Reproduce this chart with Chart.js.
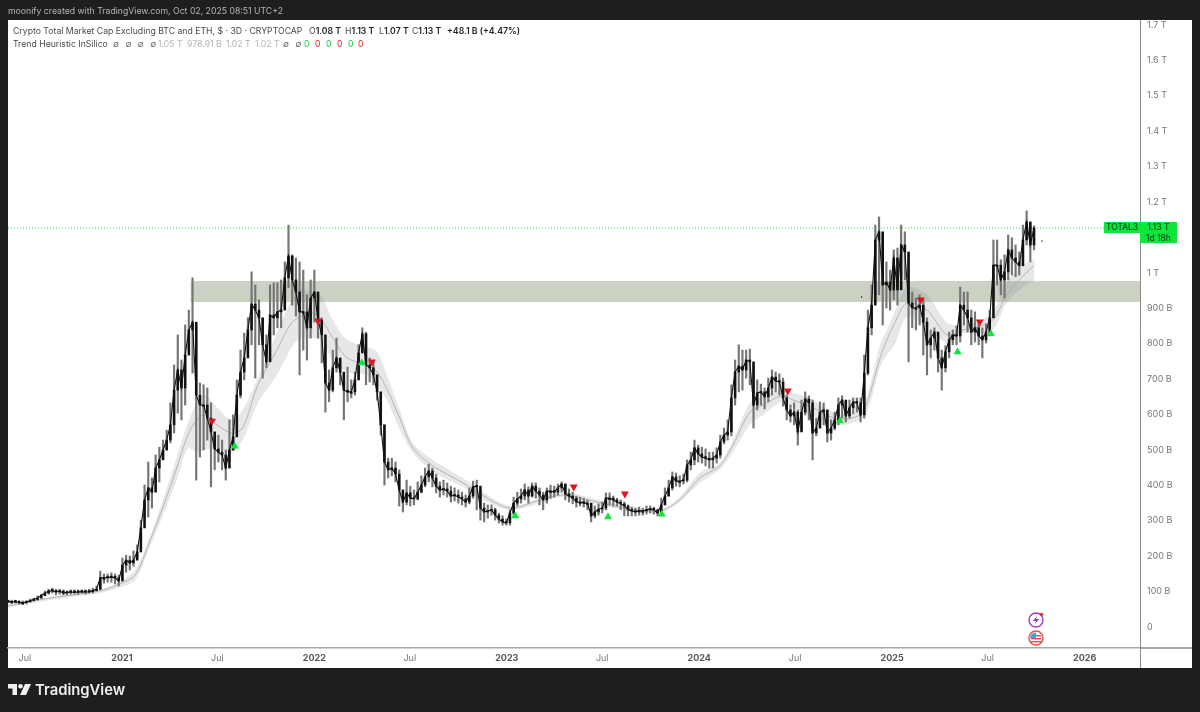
<!DOCTYPE html>
<html>
<head>
    <title>TOTAL3</title>
    <script src="https://cdn.jsdelivr.net/npm/chart.js"></script>
    <style>
        html, body { margin: 0; padding: 0; background: #1e1e1e; overflow: hidden; }
        body { width: 1200px; height: 712px; position: relative; font-family: Inter, Roboto, sans-serif; }
        #panel { position: absolute; left: 8px; top: 20px; width: 1184px; height: 648px; background: #fff; }
        #chart { position: absolute; left: 0; top: 0; }
        .t { position: absolute; white-space: nowrap; font-size: 8.7px; line-height: 12px; color: #4a4a4a; }
        .t b { font-weight: 600; color: #222; }
        .tag { position: absolute; background: #0ee63c; color: #0c3a14; font-size: 8.5px; line-height: 10.5px; text-align: center; }
        .logo { position: absolute; left: 35px; top: 680px; color: #efefef; font-size: 14.8px; line-height: 20px; font-weight: 600; }
        .rule { position: absolute; }
    </style>
</head>
<body>
    <div id="panel"></div>
    <canvas id="chart" width="1200" height="712"></canvas>
    <div class="rule" style="left:1140px;top:648px;width:1px;height:20px;background:#8a8a8a"></div>
    <div class="rule" style="left:1141px;top:647px;width:51px;height:1.5px;background:#a9a9a9"></div>

    <div class="t" style="left:8px;top:5px;color:#b5b5b5">moonify created with TradingView.com, Oct 02, 2025 08:51 UTC+2</div>

    <div class="t" style="left:13px;top:25px">Crypto Total Market Cap Excluding BTC and ETH, $ · 3D · CRYPTOCAP</div>
    <div class="t" style="left:309px;top:25px">O<b>1.08 T</b></div>
    <div class="t" style="left:345px;top:25px">H<b>1.13 T</b></div>
    <div class="t" style="left:379px;top:25px">L<b>1.07 T</b></div>
    <div class="t" style="left:412px;top:25px">C<b>1.13 T</b></div>
    <div class="t" style="left:447px;top:25px"><b>+48.1 B (+4.47%)</b></div>

    <div class="t" style="left:13px;top:38px">Trend Heuristic InSilico</div>
    <div class="t" style="left:113px;top:38px;word-spacing:4px;color:#666">∅ ∅ ∅ ∅</div>
    <div class="t" style="left:158px;top:38px;color:#b4b4b4">1.05 T</div>
    <div class="t" style="left:187px;top:38px;color:#b4b4b4">978.91 B</div>
    <div class="t" style="left:226px;top:38px;color:#b4b4b4">1.02 T</div>
    <div class="t" style="left:255px;top:38px;color:#b4b4b4">1.02 T</div>
    <div class="t" style="left:283px;top:38px;word-spacing:4px;color:#666">∅ ∅</div>
    <div class="t" style="left:304px;top:38px;color:#12c83a">0</div>
    <div class="t" style="left:315px;top:38px;color:#e01818">0</div>
    <div class="t" style="left:326px;top:38px;color:#12c83a">0</div>
    <div class="t" style="left:337px;top:38px;color:#e01818">0</div>
    <div class="t" style="left:348px;top:38px;color:#12c83a">0</div>
    <div class="t" style="left:358px;top:38px;color:#e01818">0</div>

    <div class="tag" style="left:1104px;top:222px;width:36px;height:11px">TOTAL3</div>
    <div class="tag" style="left:1140px;top:222px;width:37px;height:21px">1.13 T<br>1d 18h</div>

    <!-- event icons -->
    <svg style="position:absolute;left:1026px;top:610px" width="20" height="38" viewBox="0 0 20 38">
        <circle cx="10" cy="10" r="7" fill="#fff" stroke="#9c3fc0" stroke-width="1.4"/>
        <path d="M11.5 5.5 L7 11 L10 11 L8.5 14.5 L13 9 L10 9 Z" fill="#8a35b5"/>
        <circle cx="15.5" cy="4.5" r="1.8" fill="#e8304a"/>
        <circle cx="10" cy="28" r="7" fill="#fff" stroke="#e2504f" stroke-width="1.4"/>
        <rect x="5" y="25" width="10" height="1.4" fill="#e2504f"/>
        <rect x="5" y="28" width="10" height="1.4" fill="#e2504f"/>
        <rect x="5" y="31" width="10" height="1.4" fill="#e2504f"/>
        <path d="M4 28 A6 6 0 0 1 10 22.5 L10 28 Z" fill="#4a9ee0"/>
    </svg>

    <!-- watermark -->
    <svg style="position:absolute;left:8px;top:684px" width="24" height="12" viewBox="0 0 24 12">
        <path d="M0 0 H9 V11 H4.5 V4.5 H0 Z" fill="#efefef"/>
        <circle cx="12.5" cy="2.3" r="2.3" fill="#efefef"/>
        <path d="M17 0 H23 L18 11 H12 Z" fill="#efefef"/>
    </svg>
    <div class="logo">TradingView</div>

    <script>
        // x values are days counted from 2021-01-01, y values are billions of USD
        const xTickDays = [-184, 0, 181, 365, 546, 730, 911, 1095, 1277, 1461, 1642, 1826];
        const xTickLabels = ['Jul', '2021', 'Jul', '2022', 'Jul', '2023', 'Jul', '2024', 'Jul', '2025', 'Jul', '2026'];
        const yTickValues = [0, 100, 200, 300, 400, 500, 600, 700, 800, 900, 1000, 1200, 1300, 1400, 1500, 1600, 1700];
        const yTickLabels = ['0', '100 B', '200 B', '300 B', '400 B', '500 B', '600 B', '700 B', '800 B', '900 B', '1 T', '1.2 T', '1.3 T', '1.4 T', '1.5 T', '1.6 T', '1.7 T'];

        const firstCandleDay = -216;
        const candleStepDays = 7;

        const candleClose = [
            69, 69, 68, 66, 66, 68, 72, 75, 79, 86, 93, 99, 100, 96, 99, 93, 95, 96, 95, 96,
            97, 96, 97, 100, 104, 136, 136, 137, 138, 136, 127, 172, 186, 178, 186, 209, 277, 356, 390, 378,
            446, 469, 497, 525, 568, 666, 723, 672, 765, 836, 858, 652, 624, 624, 587, 548, 500, 491, 483, 446,
            497, 534, 652, 717, 757, 836, 909, 892, 870, 794, 746, 878, 870, 887, 892, 983, 1045, 977, 943, 887,
            887, 842, 926, 943, 864, 822, 686, 666, 729, 757, 717, 666, 661, 661, 695, 771, 825, 737, 729, 709,
            661, 568, 463, 441, 446, 429, 384, 350, 376, 361, 359, 378, 398, 421, 438, 418, 395, 384, 387, 381,
            367, 370, 364, 359, 350, 367, 393, 395, 333, 322, 325, 328, 313, 302, 294, 291, 319, 347, 359, 367,
            384, 367, 395, 381, 370, 356, 381, 381, 378, 390, 401, 373, 367, 361, 350, 350, 347, 347, 311, 322,
            330, 333, 361, 361, 356, 350, 345, 339, 328, 325, 322, 325, 325, 328, 330, 328, 319, 342, 367, 390,
            421, 409, 409, 412, 455, 469, 503, 486, 477, 474, 469, 474, 483, 520, 539, 548, 644, 717, 734, 723,
            751, 746, 624, 658, 661, 647, 672, 703, 692, 689, 644, 610, 593, 604, 548, 604, 641, 630, 545, 559,
            604, 610, 545, 559, 582, 624, 638, 593, 616, 633, 630, 596, 714, 842, 906, 1090, 1113, 963, 971, 949,
            1039, 949, 1076, 1056, 912, 898, 898, 906, 858, 794, 813, 830, 757, 729, 774, 808, 822, 819, 906, 892,
            870, 830, 842, 819, 808, 830, 870, 1019, 1019, 977, 1000, 1062, 1039, 1028, 1017, 1090, 1141, 1076, 1124
        ];
        const candleHigh = [
            73, 73, 73, 71, 71, 71, 76, 79, 85, 90, 99, 104, 107, 104, 104, 102, 99, 102, 102, 102,
            102, 102, 104, 107, 113, 155, 147, 147, 150, 147, 144, 192, 200, 198, 212, 229, 299, 398, 463, 418,
            483, 505, 525, 553, 630, 737, 822, 751, 850, 892, 983, 850, 686, 681, 672, 630, 534, 539, 525, 497,
            582, 596, 695, 779, 827, 870, 1000, 963, 921, 870, 822, 963, 969, 969, 977, 1028, 1132, 1048, 1039, 1028,
            1005, 935, 977, 1005, 926, 870, 794, 723, 779, 813, 751, 709, 731, 695, 717, 794, 842, 830, 757, 746,
            709, 661, 568, 474, 474, 463, 441, 384, 412, 395, 384, 407, 424, 446, 457, 446, 429, 407, 412, 404,
            395, 390, 384, 378, 370, 390, 409, 412, 384, 347, 342, 342, 333, 319, 311, 302, 328, 364, 378, 387,
            401, 393, 404, 404, 390, 378, 390, 398, 395, 401, 407, 401, 387, 378, 367, 364, 361, 356, 342, 339,
            345, 350, 376, 376, 367, 361, 356, 350, 342, 336, 333, 336, 333, 339, 339, 336, 330, 361, 390, 412,
            435, 432, 424, 429, 469, 491, 525, 511, 505, 500, 491, 491, 503, 539, 559, 582, 681, 751, 794, 779,
            779, 782, 737, 695, 683, 672, 700, 723, 717, 712, 700, 652, 624, 630, 610, 638, 661, 650, 638, 587,
            633, 630, 596, 582, 604, 644, 650, 633, 638, 644, 644, 644, 765, 892, 963, 1132, 1155, 1104, 1028, 1005,
            1062, 1067, 1132, 1113, 1048, 943, 926, 935, 926, 870, 836, 842, 822, 779, 791, 830, 836, 847, 957, 943,
            943, 892, 887, 858, 842, 853, 892, 1090, 1090, 1034, 1048, 1104, 1096, 1076, 1056, 1132, 1172, 1132, 1130
        ];
        const candleLow = [
            65, 65, 65, 62, 62, 62, 68, 71, 73, 79, 85, 90, 93, 88, 90, 88, 88, 90, 90, 90,
            93, 90, 93, 93, 99, 102, 121, 124, 124, 119, 113, 130, 152, 158, 169, 192, 243, 305, 308, 333,
            404, 407, 474, 497, 517, 545, 601, 582, 624, 779, 714, 412, 477, 497, 525, 393, 441, 463, 441, 412,
            463, 497, 596, 644, 695, 768, 794, 700, 794, 700, 729, 813, 822, 842, 842, 898, 955, 906, 875, 709,
            779, 751, 813, 858, 813, 743, 604, 633, 661, 717, 681, 582, 633, 644, 652, 695, 779, 681, 689, 681,
            638, 539, 398, 418, 424, 407, 339, 322, 342, 339, 342, 356, 376, 393, 407, 393, 376, 364, 370, 364,
            350, 353, 347, 342, 336, 345, 361, 328, 299, 294, 305, 313, 299, 291, 285, 285, 285, 313, 339, 347,
            356, 347, 364, 361, 342, 328, 347, 361, 364, 370, 378, 356, 350, 345, 336, 339, 336, 328, 294, 305,
            313, 319, 328, 342, 339, 339, 328, 311, 311, 311, 311, 313, 313, 316, 319, 316, 311, 313, 342, 367,
            384, 395, 393, 401, 407, 441, 455, 463, 460, 452, 446, 446, 460, 474, 514, 525, 537, 624, 661, 666,
            700, 681, 559, 610, 624, 613, 633, 652, 661, 652, 621, 582, 576, 568, 511, 554, 596, 582, 469, 537,
            559, 568, 520, 525, 554, 568, 587, 576, 587, 599, 604, 576, 587, 709, 822, 935, 935, 850, 898, 892,
            921, 906, 983, 977, 746, 842, 836, 850, 765, 709, 757, 779, 717, 666, 717, 757, 794, 794, 802, 850,
            830, 794, 802, 794, 757, 799, 819, 921, 963, 935, 926, 977, 991, 986, 991, 1019, 1076, 1028, 1062
        ];
        const candleOpen = [68].concat(candleClose.slice(0, -1));

        const bandDays = [
            -216, -137, -42, -9, 25, 53, 78, 104, 125, 142, 157, 180, 209, 229, 258, 294, 319, 334, 360, 379,
            400, 427, 465, 484, 504, 527, 552, 590, 647, 679, 736, 793, 836, 893, 944, 1020, 1058, 1096, 1134, 1159,
            1191, 1216, 1252, 1273, 1305, 1356, 1400, 1415, 1438, 1451, 1466, 1489, 1527, 1565, 1595, 1618, 1652, 1678, 1709, 1731
        ];
        const bandUpper = [
            62, 82, 104, 121, 158, 251, 356, 477, 573, 630, 652, 618, 582, 610, 700, 827, 912, 949, 943, 929,
            864, 808, 788, 774, 703, 610, 517, 469, 418, 384, 339, 361, 378, 361, 342, 328, 364, 432, 460, 525,
            630, 647, 666, 658, 644, 601, 610, 658, 794, 836, 887, 957, 935, 856, 850, 856, 887, 969, 1019, 1034
        ];
        const bandMid = [
            56, 79, 99, 116, 144, 240, 336, 446, 539, 582, 596, 568, 545, 559, 681, 779, 850, 870, 884, 864,
            813, 757, 737, 717, 666, 587, 503, 452, 404, 373, 333, 356, 370, 353, 336, 325, 356, 418, 452, 511,
            604, 624, 650, 638, 621, 585, 596, 638, 757, 808, 856, 912, 892, 822, 836, 842, 864, 935, 988, 1019
        ];
        const bandLower = [
            54, 73, 93, 107, 130, 223, 313, 412, 503, 491, 497, 503, 489, 525, 630, 709, 779, 808, 813, 805,
            751, 717, 709, 681, 633, 554, 489, 435, 393, 361, 328, 347, 364, 345, 330, 319, 350, 404, 443, 491,
            568, 596, 633, 616, 596, 568, 582, 610, 731, 765, 794, 873, 842, 799, 827, 827, 836, 912, 957, 977
        ];

        const zoneDays = [130, 1931];
        const zoneTop = [974, 974];
        const zoneBottom = [915, 915];

        const lastPriceDays = [-216, 1931];
        const lastPrice = [1124, 1124];

        const sellDays = [171, 372, 474, 857, 954, 1263, 1515, 1627];
        const sellValues = [579, 861, 746, 393, 373, 664, 921, 859];
        const buyDays = [214, 455, 746, 922, 1024, 1362, 1585, 1648];
        const buyValues = [508, 743, 311, 308, 316, 579, 774, 825];

        const dotDays = [1403, 1745];
        const dotValues = [929, 1087];

        const candleDays = candleClose.map((_, i) => firstCandleDay + i * candleStepDays);
        const pairs = (xs, ys) => xs.map((x, i) => ({ x: x, y: ys[i] }));
        const isYear = (c) => c.tick && /^\d/.test(c.tick.label);

        const ctx = document.getElementById('chart').getContext('2d');
        new Chart(ctx, {
            data: {
                datasets: [
                    {
                        type: 'line', data: pairs(zoneDays, zoneTop), order: 10,
                        borderWidth: 0, pointRadius: 0
                    },
                    {
                        type: 'line', data: pairs(zoneDays, zoneBottom), order: 10,
                        borderWidth: 0, pointRadius: 0, fill: '-1',
                        backgroundColor: 'rgba(125, 142, 105, 0.4)'
                    },
                    {
                        type: 'line', data: pairs(lastPriceDays, lastPrice), order: 9,
                        borderColor: '#2fd765', borderWidth: 1, borderDash: [1, 2], pointRadius: 0
                    },
                    {
                        type: 'line', data: pairs(bandDays, bandUpper), order: 8,
                        borderWidth: 0, pointRadius: 0, tension: 0.3
                    },
                    {
                        type: 'line', data: pairs(bandDays, bandLower), order: 8,
                        borderWidth: 0, pointRadius: 0, tension: 0.3, fill: '-1',
                        backgroundColor: 'rgba(110, 115, 125, 0.17)'
                    },
                    {
                        type: 'line', data: pairs(bandDays, bandMid), order: 7,
                        borderColor: '#a8a8ac', borderWidth: 0.8, pointRadius: 0, tension: 0.3
                    },
                    {
                        type: 'bar', order: 6, grouped: false, barThickness: 1.5,
                        data: candleDays.map((d, i) => ({ x: d, y: [candleLow[i], candleHigh[i]] })),
                        backgroundColor: '#757575'
                    },
                    {
                        type: 'bar', order: 5, grouped: false, barThickness: 1.9, minBarLength: 1.5,
                        data: candleDays.map((d, i) => ({ x: d, y: [candleOpen[i], candleClose[i]] })),
                        backgroundColor: '#111'
                    },
                    {
                        type: 'line', data: pairs(candleDays, candleClose), order: 4,
                        borderColor: '#111', borderWidth: 1.1, pointRadius: 0
                    },
                    {
                        type: 'scatter', data: pairs(sellDays, sellValues), order: 2,
                        pointStyle: 'triangle', rotation: 180, pointRadius: 4.6,
                        backgroundColor: '#e0141c', borderWidth: 0
                    },
                    {
                        type: 'scatter', data: pairs(buyDays, buyValues), order: 2,
                        pointStyle: 'triangle', pointRadius: 4.6,
                        backgroundColor: '#0ee63c', borderWidth: 0
                    },
                    {
                        type: 'scatter', data: pairs(dotDays, dotValues), order: 2,
                        pointRadius: 0.8, backgroundColor: '#222', borderWidth: 0
                    }
                ]
            },
            options: {
                responsive: false,
                animation: false,
                events: [],
                layout: { padding: { left: 8, right: 8, top: 20, bottom: 44 } },
                plugins: { legend: { display: false }, tooltip: { enabled: false } },
                scales: {
                    x: {
                        type: 'linear',
                        min: -216,
                        max: 1931,
                        offset: false,
                        grid: { display: false, offset: false, drawTicks: false },
                        border: { display: true, color: '#a9a9a9', width: 1.5 },
                        afterFit: (s) => { s.height = 20; },
                        afterBuildTicks: (s) => { s.ticks = xTickDays.map(v => ({ value: v })); },
                        afterTickToLabelConversion: (s) => {
                            s.ticks.forEach((t, i) => { t.label = xTickLabels[i]; });
                        },
                        ticks: {
                            maxRotation: 0,
                            autoSkip: false,
                            padding: 5,
                            color: (c) => isYear(c) ? '#555' : '#777',
                            font: (c) => isYear(c)
                                ? { family: 'Inter', size: 9, weight: '700' }
                                : { family: 'Inter', size: 9 }
                        }
                    },
                    y: {
                        type: 'linear',
                        position: 'right',
                        min: -62,
                        max: 1711,
                        grid: { display: false, drawTicks: false },
                        border: { display: true, color: '#8a8a8a', width: 1 },
                        afterFit: (s) => { s.width = 52; },
                        afterBuildTicks: (s) => { s.ticks = yTickValues.map(v => ({ value: v })); },
                        afterTickToLabelConversion: (s) => {
                            s.ticks.forEach((t, i) => { t.label = yTickLabels[i]; });
                        },
                        ticks: {
                            padding: 7,
                            labelOffset: 1,
                            autoSkip: false,
                            color: '#777',
                            font: { family: 'Inter', size: 9 }
                        }
                    }
                }
            }
        });
    </script>
</body>
</html>
